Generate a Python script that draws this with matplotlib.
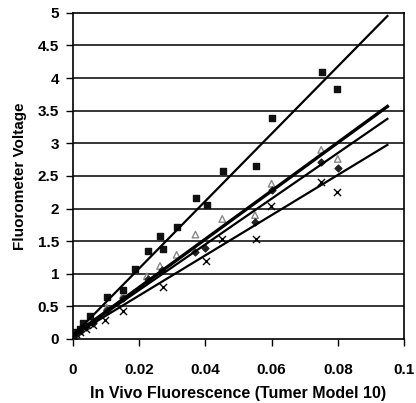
import numpy as np
import matplotlib
matplotlib.use("Agg")
import matplotlib.pyplot as plt

plt.rcParams['font.family'] = ['Liberation Sans', 'DejaVu Sans']

# series
sq_x = [0.0, 0.001, 0.002, 0.003, 0.005, 0.0102, 0.0152, 0.0187, 0.0228, 0.0263,
        0.0273, 0.0313, 0.0371, 0.0404, 0.0452, 0.0553, 0.060, 0.0751, 0.0799]
sq_y = [0.06, 0.1, 0.15, 0.25, 0.35, 0.65, 0.75, 1.08, 1.35, 1.58,
        1.38, 1.72, 2.16, 2.06, 2.57, 2.65, 3.39, 4.09, 3.84]

tri_x = [0.0, 0.001, 0.002, 0.004, 0.006, 0.0102, 0.0152, 0.0223, 0.0263, 0.0313,
         0.037, 0.0451, 0.055, 0.060, 0.075, 0.080]
tri_y = [0.05, 0.08, 0.12, 0.2, 0.28, 0.48, 0.68, 0.96, 1.12, 1.29,
         1.6, 1.84, 1.90, 2.38, 2.9, 2.76]

dia_x = [0.0, 0.001, 0.002, 0.004, 0.006, 0.0102, 0.0152, 0.0228, 0.027, 0.037,
         0.040, 0.055, 0.060, 0.075, 0.080]
dia_y = [0.05, 0.08, 0.12, 0.18, 0.25, 0.45, 0.62, 0.92, 1.06, 1.34,
         1.39, 1.8, 2.28, 2.72, 2.62]

crs_x = [0.0, 0.001, 0.002, 0.004, 0.006, 0.0097, 0.0152, 0.0271, 0.0401, 0.0451,
         0.0553, 0.0597, 0.0749, 0.0799]
crs_y = [0.04, 0.07, 0.1, 0.15, 0.22, 0.29, 0.43, 0.80, 1.2, 1.54,
         1.54, 2.04, 2.41, 2.25]

# trendlines: slope, intercept, line width
fit_slope = [51.6, 37.0, 35.0, 30.8]
fit_icept = [0.05, 0.05, 0.05, 0.05]
fit_lw = [1.6, 2.4, 1.6, 1.6]
fit_xmax = 0.095

fig, ax = plt.subplots(figsize=(4.16, 4.03), dpi=100)
fig.subplots_adjust(left=0.1755, right=0.971, bottom=0.159, top=0.968)

for yv in np.arange(0.5, 5.0, 0.5):
    ax.axhline(yv, color='black', lw=1.1, zorder=1)

ax.scatter(tri_x, tri_y, marker='^', s=22, facecolors='none', edgecolors='#888888', lw=1, zorder=3)
ax.scatter(dia_x, dia_y, marker='D', s=12, color='#222222', zorder=3)
ax.scatter(crs_x, crs_y, marker='x', s=26, color='black', lw=1, zorder=3)
ax.scatter(sq_x, sq_y, marker='s', s=24, color='#111111', zorder=4)

xs = np.array([0.0, fit_xmax])
for m, b, lw in zip(fit_slope, fit_icept, fit_lw):
    ax.plot(xs, m * xs + b, color='black', lw=lw, zorder=5)

ax.set_xlim(0, 0.1)
ax.set_ylim(0, 5)
ax.set_xticks([0, 0.02, 0.04, 0.06, 0.08, 0.1])
ax.set_xticklabels(['0', '0.02', '0.04', '0.06', '0.08', '0.1'])
ax.set_yticks(np.arange(0, 5.01, 0.5))
ax.set_yticklabels(['0', '0.5', '1', '1.5', '2', '2.5', '3', '3.5', '4', '4.5', '5'])
ax.tick_params(direction='out', length=5, width=1, labelsize=11)
ax.tick_params(axis='x', pad=12)
ax.tick_params(axis='y', pad=5)
for lab in ax.get_xticklabels() + ax.get_yticklabels():
    lab.set_fontweight('bold')
for sp in ax.spines.values():
    sp.set_linewidth(1.2)

ax.set_xlabel('In Vivo Fluorescence (Tumer Model 10)', fontsize=11.5, fontweight='bold')
ax.xaxis.set_label_coords(0.5, -0.145)
ax.set_ylabel('Fluorometer Voltage', fontsize=11, fontweight='bold')
ax.yaxis.set_label_coords(-0.139, 0.5)

fig.savefig('out.png', dpi=100)
